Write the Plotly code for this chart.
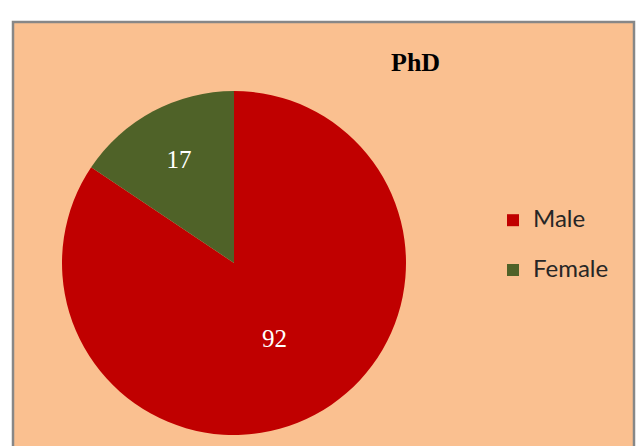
import plotly.graph_objects as go

labels = ["Male", "Female"]
values = [92, 17]
colors = ["#C00000", "#4F6228"]

W, H = 643, 446

legend_labels = ["<span style='font-size:24px'>" + l + "</span><br> " for l in labels]

fig = go.Figure()
fig.add_trace(go.Pie(
    labels=legend_labels,
    values=values,
    sort=False,
    direction="clockwise",
    rotation=0,
    marker=dict(colors=colors, line=dict(width=0)),
    textinfo="value",
    textposition="inside",
    insidetextfont=dict(family="Liberation Serif", size=25, color="white"),
    insidetextorientation="horizontal",
    domain=dict(x=[62 / W, 406 / W], y=[1 - 435 / H, 1 - 91 / H]),
    hovertemplate="%{value}<extra></extra>",
))

fig.update_layout(
    width=W, height=H,
    margin=dict(l=0, r=0, t=0, b=0),
    paper_bgcolor="white",
    plot_bgcolor="white",
    shapes=[dict(
        type="rect", xref="paper", yref="paper",
        x0=13 / W, x1=634 / W, y0=-0.05, y1=1 - 22 / H,
        fillcolor="#FAC090", line=dict(color="#878787", width=2.5),
        layer="below",
    )],
    annotations=[dict(
        text="<b>PhD</b>", x=415.5 / W, y=1 - 63 / H, xref="paper", yref="paper",
        showarrow=False, xanchor="center", yanchor="middle",
        font=dict(family="Liberation Serif", size=26, color="black"),
    )],
    legend=dict(
        x=493 / W, y=1 - 202 / H, xanchor="left", yanchor="top",
        bgcolor="rgba(0,0,0,0)",
        font=dict(family="Lato", size=18, color="#262626"),
        valign="top",
    ),
)

fig.write_html("out.html", config={"displayModeBar": False},
               post_script="document.body.style.margin='0';")
